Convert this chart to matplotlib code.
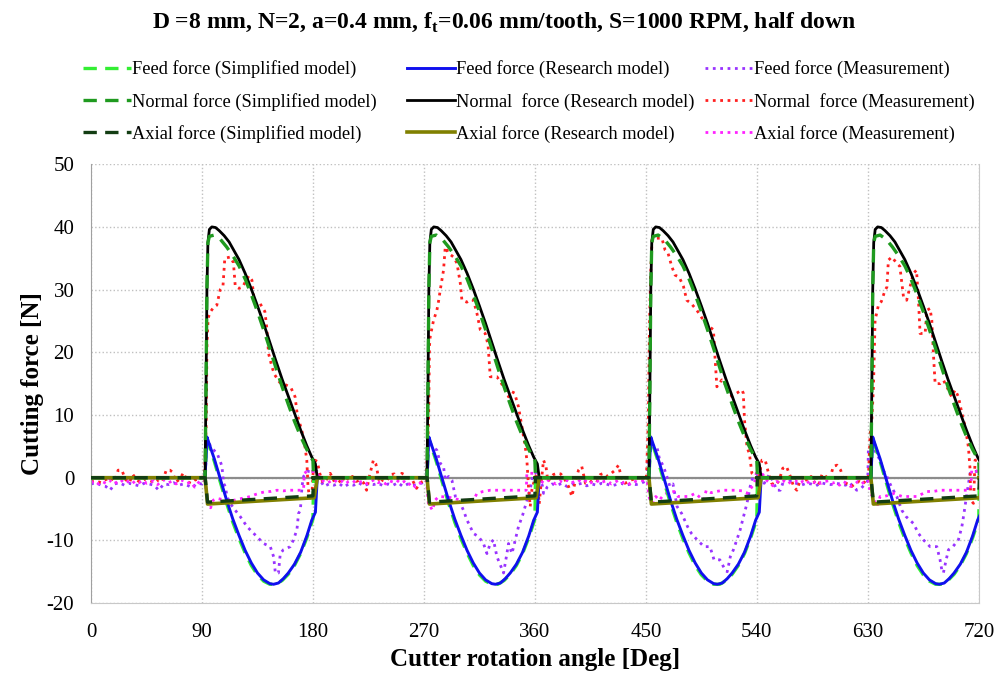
import matplotlib
matplotlib.use("Agg")
import matplotlib.pyplot as plt
import numpy as np

plt.rcParams["font.family"] = ["Liberation Serif", "DejaVu Serif"]
plt.rcParams["mathtext.fontset"] = "custom"
plt.rcParams["mathtext.rm"] = "Liberation Serif"
plt.rcParams["mathtext.bf"] = "Liberation Serif:bold"
plt.rcParams["axes.unicode_minus"] = False

# ---- model curves: one tooth pass (angle inside a 180 deg period) ----
tooth_starts = [0, 180, 360, 540]

normal_res_ang = [0, 92.5, 93.3, 94.0, 94.8, 96.0, 98, 101, 104, 108, 112, 116, 120, 125, 130,
                  135, 140, 145, 150, 155, 160, 165, 170, 175, 179, 182, 183.5, 180]
normal_res_val = [0, 0, 15, 30, 37.5, 39.6, 40, 39.9, 39.4, 38.6, 37.6, 36.2, 34.8, 32.6, 30.1,
                  27.4, 24.6, 21.6, 18.6, 15.7, 13.0, 10.3, 7.6, 5.1, 3.3, 2.2, 0, 0]

normal_sim_ang = [0, 92.5, 93.3, 94.0, 94.8, 96, 100, 105, 110, 115, 120, 125, 130, 135, 140, 145,
                  150, 155, 160, 165, 170, 175, 180, 180.5, 180]
normal_sim_val = [0, 0, 15, 30, 37.5, 38.5, 38.7, 38.0, 36.8, 35.4, 33.8, 31.7, 29.2, 26.5, 23.6, 20.6,
                  17.5, 14.5, 11.7, 9.0, 6.6, 4.5, 2.7, 0, 0]

feed_res_ang = [0, 92.5, 94, 96, 100, 105, 110, 115, 120, 125, 130, 135, 140, 145, 148, 152,
                156, 160, 165, 170, 175, 179, 182, 183.5, 180]
feed_res_val = [0, 0, 6.5, 5.3, 3.0, -0.3, -3.6, -6.6, -9.2, -11.6, -13.6, -15.2, -16.3, -16.9, -17.0, -16.8,
                -16.1, -15.2, -13.8, -11.9, -9.3, -6.8, -5.5, 0, 0]

feed_sim_ang = [0, 92.5, 94, 96, 100, 105, 110, 115, 120, 125, 130, 135, 140, 145, 150, 155,
                160, 165, 170, 175, 180, 180.5, 180]
feed_sim_val = [0, 0, 6.2, 5.0, 2.6, -0.8, -4.1, -7.1, -9.7, -12.0, -14.0, -15.5, -16.5, -17.0, -17.0, -16.4,
                -15.4, -14.0, -12.1, -9.6, -6.6, 0, 0]

axial_res_ang = [0, 92.5, 94.5, 181, 183.5, 180]
axial_res_val = [0, 0, -4.2, -3.2, 0, 0]

axial_sim_ang = [0, 92.6, 94.5, 180, 180.5, 180]
axial_sim_val = [0, 0, -3.9, -2.9, 0, 0]

# ---- measurements (whole 0..720 deg) ----
normal_meas_ang = [0, 4, 8, 12, 16, 19, 22, 25, 28, 31, 34, 37, 40, 44, 48, 52, 55, 58, 61, 64, 66, 69, 72,
                   75, 78, 81, 84, 87, 90, 92,
                   93.5, 94, 95, 97, 99.5, 102, 104.8, 107, 108.5, 113, 115.5, 117, 120, 123, 125, 128,
                   130.5, 132.5, 137, 141, 142.5, 144, 147, 149, 153, 158, 162, 165.5, 167, 168.5, 171,
                   173.5, 175, 176, 177, 179, 180, 181.5, 183.5, 185.5,
                   188, 191, 194, 197, 200, 203, 206, 209, 212, 215, 218, 221, 223.5, 226, 229, 231, 234,
                   237, 240, 243, 246, 249, 252, 255, 258, 261, 264, 267, 270, 272,
                   273.8, 274.5, 275.1, 277.8, 280.5, 282, 283.2, 285.9, 287.3, 290, 294, 296.8, 299.5,
                   300.8, 304.8, 308, 310.2, 313, 315.7, 319.7, 322, 323.8, 329.2, 334.6, 338.6, 341.4,
                   343.5, 346.7, 349.5, 352.2, 353.5, 354.8, 356.2, 357.5, 358.9, 361.6, 363.5, 365, 367,
                   369, 370.5,
                   375, 378, 381, 384, 387.3, 390, 392.5, 395.4, 398, 401, 404, 407, 410, 413, 416, 419,
                   422, 425, 427.8, 430, 433, 436, 439, 442, 445, 448, 450.5,
                   452, 453, 454, 455, 458, 463, 465.6, 468, 471, 473.7, 477, 480.5, 483.2, 486.7, 491.4,
                   496.7, 502.1, 504.8, 506.2, 507.6, 511.6, 515.7, 518.4, 523.8, 527.9, 529, 530, 532,
                   534, 536, 538.7, 541.4, 544.1, 546.8, 549.5, 552,
                   555, 558, 561, 564, 567, 570, 572.5, 575, 578, 581, 584, 587, 590, 593, 596, 599, 602,
                   605, 608, 611, 614, 617, 620, 623, 626, 629, 630.5,
                   631.9, 633, 634.6, 635.9, 638.6, 641, 644, 645.5, 646.7, 649.5, 653.5, 656, 658.9,
                   661.5, 664.3, 667, 669.5, 671.1, 672.4, 676.5, 677.9, 680.5, 681.9, 683.2, 684.6,
                   688.6, 691.5, 694.1, 698, 700.8, 703.5, 706.3, 709, 711.6, 713, 713.5, 715.7, 717, 720]
normal_meas_val = [-0.6, -0.5, -0.8, -0.3, 0, -0.6, 1.2, 1.2, -0.3, -0.8, 0.5, -0.4, -0.7, -0.2, -0.5, -0.8,
                   -0.3, -0.6, 1.2, 1.2, 0.9, -0.7, -0.2, 0.8, -0.6, -0.9, -0.4, -0.2, 0, 0.5,
                   9, 21, 25.5, 26.5, 27.2, 27.5, 30, 30.5, 35, 35.2, 34.3, 30.5, 30.2, 30.4, 31.2, 32.2,
                   31.5, 28, 27.8, 26.5, 24, 19.8, 17.5, 16.4, 15.2, 14.8, 14.4, 12.9, 10.5, 9.2, 7.5,
                   5, 2.8, -1.5, -2.8, -3.6, 0.5, 2.8, 2.6, 0.7,
                   -0.8, -0.3, 0.7, -0.5, -0.2, -0.9, 0.3, -0.4, 0.2, -0.6, -0.4, -0.8, -2, 0.4, 2.8, 2.2,
                   -0.8, -0.3, -0.5, 0.5, 0.6, -0.2, 0.7, 0.4, -0.2, -0.5, -1.7, -0.8, -0.5, 0.3,
                   9.2, 21, 22.5, 25.1, 26.7, 28.3, 29.9, 33.1, 36.8, 35.8, 35.2, 34.2, 31,
                   28.3, 28, 28.4, 28.3, 26.2, 23.6, 23, 21.2, 16.1, 16.1, 14.5, 12.9, 13.7,
                   13.5, 11.3, 8.1, 4.9, 2.8, -1.4, -4.6, -2, -0.9, 0.8, -4.2, -1, 2.8,
                   1.8, -0.6,
                   0.5, 0.7, 0.6, -0.2, -1.4, -3, -0.8, 1.2, 1.8, -0.9, -0.9, -0.3, -0.5, 0.5, 0.7, 0.2,
                   0.7, 1.2, 2, 0.1, -0.9, -0.6, -0.3, -0.2, 0, 0.1, 0.2,
                   9.2, 25, 33, 37.9, 38.2, 38.2, 36.3, 35.8, 33.7, 32.3, 32, 30.5, 28.3, 27.8, 26.7,
                   25.1, 24, 23.6, 18.8, 14.5, 15.6, 14.5, 12.9, 13.5, 14, 13.5, 9.2, 4.9,
                   3.8, 0.7, 0.2, -0.4, 2.8, 2.8, 0.7, -0.9,
                   -1.2, -0.5, 1.5, 1.8, 0.3, -1.5, -2, -0.5, 0.3, -0.6, 0.2, -0.8, -1.2, 0.6, 0.2, -0.4, 1.8,
                   2, 1.2, -0.8, -1, -1.4, -0.9, -0.6, -1, -0.3, 0,
                   7.1, 8, 14.5, 25.1, 27.5, 28.1, 29.9, 30.4, 34.7, 35.2, 34.2, 33.7, 28.9,
                   28.3, 30.5, 32.6, 33.1, 28.3, 23, 23, 26.7, 27, 25.1, 19.8, 15,
                   15, 15.5, 14.5, 12.9, 14, 12.9, 10.3, 8.1, 4.9, 1.2, -3.6, -4.1, 2.8, 2.8]

feed_meas_ang = [0, 4, 8, 12, 15.5, 19, 23, 27, 31, 35, 39, 43, 47, 51, 55, 59, 63, 67, 71, 75, 79, 82, 86,
                 90, 92.5,
                 93.5, 94.6, 97, 99, 102.2, 105, 106.2, 107.5, 108.9, 110.3, 112.9, 117, 121, 126.5, 130,
                 134.6, 140, 145.4, 148.1, 149.5, 152, 153.5, 156, 161.6, 164, 167, 168.3, 169.8, 171.1,
                 172.4, 175.1, 179, 183.3, 184.5, 185.9,
                 189, 193, 197, 201, 205, 209, 213, 217, 221, 225, 229, 233, 237, 241, 245, 249, 253, 257,
                 261, 265, 269, 272,
                 273, 273.8, 276.5, 280.5, 283.2, 285.9, 287.3, 290, 292.7, 295.5, 299.5, 302.1, 304.8,
                 307.5, 310.2, 314.3, 318.3, 321.1, 323.8, 326.4, 329.2, 334.6, 337.3, 338.6, 341.4,
                 344.1, 346.7, 350, 353, 356, 358.5, 361, 363,
                 366, 367, 370, 374, 378, 382, 386, 390, 394, 398, 402, 406, 410, 414, 418, 422, 426, 430,
                 434, 438, 442, 446, 450.5,
                 452, 454.9, 457, 459, 461, 464.3, 467, 469.5, 472, 475.3, 479, 483.8, 487, 491.5, 497.2,
                 502, 505.3, 510, 514.3, 516, 518.5, 521, 523.8, 526.5, 529.2, 532, 534.6, 537, 542.7,
                 546, 550,
                 553, 556.2, 559, 562, 565, 568, 572, 576, 580, 584, 588, 592, 596, 600, 604, 608, 612,
                 615, 618.4, 621, 624, 627, 630,
                 630.5, 634.6, 637, 640, 642.5, 645.4, 649, 653.5, 657.6, 661, 667, 671.1, 675, 680.5,
                 686, 688.6, 690, 691.3, 693, 695.4, 699, 703.5, 706.3, 708, 710.4, 713, 715.5, 718.5, 720]
feed_meas_val = [-1, -0.8, -1.2, -1.4, -2, -1, -0.8, -1.2, -0.9, -1.1, -1.3, -0.9, -1, -1.2, -2, -1, -1.1,
                 -0.8, -1.2, -1, -1.3, -1.6, -0.9, -1, -0.5,
                 4, 6, 5, 4.5, 3.9, 2.5, 1.8, -0.9, -1.4, -3, -4.1, -5.2, -6.2, -7.8, -8.5,
                 -9.4, -10.5, -11, -12.6, -15.2, -15.2, -12.1, -11.5, -11, -10, -8.3, -5.7, -5.2, -1.4,
                 0.2, 1, 1, 1, 0, -0.4,
                 -1.4, -1, -1.2, -0.9, -1.5, -1, -1.2, -0.8, -1.3, -1, -1.1, -0.9, -1.3, -1, -1.2, -0.8,
                 -1.4, -1, -1.2, -1.1, -0.8, -0.5,
                 3, 6, 5, 4.4, 2.3, 1.8, -0.4, 0.2, -0.4, -3, -4.1, -5.2, -6.7,
                 -7.8, -8.9, -9.4, -10.5, -12.1, -10.5, -9.9, -12.6, -15.2, -12.1, -10.5, -12.1,
                 -9.9, -7.8, -6, -4, -2, 0.5, 0.8, -0.5,
                 -1.2, -2.5, -1.5, -1, -1.2, -0.9, -1.4, -1, -1.1, -0.9, -1.3, -1, -1.2, -0.9, -1, -1.3,
                 -1.1, -0.9, -1.2, -1, -1.1, -0.9, -0.5,
                 3, 5.5, 4.9, 4.9, 3, 1.8, 0.2, -1.4, -1, -4.6, -5.7, -7.8, -8.9, -9.9, -11,
                 -11, -13.1, -13.1, -14.7, -15, -12.6, -11.5, -9.9, -8.3, -6.2, -4.1, -1.4, 0.2, 0.7,
                 -0.9, 0.5,
                 -0.5, -2, -2, -0.4, 0.2, -0.8, -0.9, -1.2, -0.9, -1, -1.3, -0.8, -1, -1.1, -0.9, -1, -1.2,
                 -0.8, -1.4, -2, -1.8, -1.2, -0.5,
                 4.9, 4.9, 3.8, 2.8, 1.2, 0.2, -1.4, -3, -5.2, -6.2, -7.3, -8.9, -9.9, -11,
                 -11, -13.1, -14.7, -15.2, -13.6, -11.5, -11, -9.9, -7.8, -5.7, -2.5, 0.7, 1, 1, 1]

axial_meas_ang = [0, 3, 6, 9, 12, 15, 18, 21, 24, 27, 30, 33, 36, 39, 42, 45, 48, 51, 54, 57, 60, 63, 66,
                  69, 72, 75, 78, 81, 84, 87, 90, 92.5,
                  94, 95.4, 97, 99, 102.2, 107, 112, 116, 120, 125, 129.2, 133, 138, 142, 146, 150.8, 156,
                  161, 166, 170, 172.4, 173, 175, 179, 183, 185,
                  188, 191, 194, 197, 200, 203, 206, 209, 212, 215, 218, 221, 224, 227, 230, 233, 236,
                  239, 242, 245, 248, 251, 254, 257, 260, 263, 266, 269, 272,
                  273.8, 275.1, 277, 279, 282, 290, 296, 302, 306, 310.2, 313, 318, 323.8, 330, 336, 342,
                  348, 353, 353.5, 356, 360, 362,
                  365, 368, 371, 374, 377, 380, 383, 386, 389, 392, 395, 398, 401, 404, 407, 410, 413, 416,
                  419, 422, 425, 428, 431, 434, 437, 440, 443, 446, 449, 451,
                  452.5, 453.5, 456, 458, 461, 464, 467, 470, 473, 476, 480, 484, 487, 490, 493, 496.7, 499,
                  503, 507, 512.9, 518, 523, 528, 532, 534, 537, 538.7, 539.5, 542, 545, 547,
                  550, 553, 556, 559, 562, 565, 568, 571, 574, 577, 580, 583, 586, 589, 592, 595, 598, 601,
                  604, 607, 610, 613, 616, 619, 622, 625, 628, 630.5,
                  632, 634, 637.3, 640, 643, 647, 651.4, 655, 658, 662.2, 666, 670, 674, 678, 683, 688.6,
                  694, 700, 705, 711.6, 713.5, 714.3, 717, 720]
axial_meas_val = [-0.8, -0.5, -1, -0.6, -0.9, -0.4, -1, -0.7, -0.3, -0.9, -0.6, -1, -0.5, -0.8, -0.4, -0.9,
                  -0.7, -0.5, -1.1, -0.6, -0.3, -0.8, -0.5, -1, -0.6, -0.4, -0.9, -0.7, -1.5, -0.8, -0.3,
                  -0.5,
                  -3, -4.6, -4.8, -3.6, -3.3, -3.5, -3.8, -3.6, -3.4, -3.2, -3, -2.7, -2.4, -2.2, -2.2, -2,
                  -2.1, -2, -2, -2, -1.8, 0.7, 1, 1, 0.8, 0.2,
                  -0.5, -0.9, -0.6, -0.3, -0.8, -0.5, -1, -0.6, -0.4, -0.9, -0.7, -0.5, -1, -0.6, -0.3, -0.8,
                  -0.6, -1, -0.5, -0.7, -0.4, -0.9, -0.6, -1.2, -0.8, -1.5, -1, -0.6, -0.4,
                  -4.6, -4.6, -5.2, -3.6, -3, -3.1, -3.4, -3.6, -3.6, -3.6, -2.5, -2.2, -2, -2, -2, -2,
                  -2, -2, 0.7, 0.7, 0.7, 0.2,
                  -0.6, -0.9, -0.4, -0.7, -1, -0.5, -0.8, -0.4, -0.9, -0.6, -0.3, -0.8, -0.5, -1, -0.6, -0.4,
                  -0.9, -0.6, -0.5, -1, -0.7, -0.4, -0.8, -0.6, -1, -0.5, -0.7, -0.5, -0.4, -0.5,
                  -3, -3.6, -4.1, -3, -3.6, -2.8, -2.5, -2.3, -2.2, -3, -3, -3, -2.8, -2.5, -3, -3.6, -2,
                  -2.4, -2.2, -2, -2, -2, -2.1, -2.5, -2, -1.2, -0.4, 0.7, 0.7, 0.5, -0.3,
                  -0.7, -1.3, -0.6, -0.9, -0.5, -1, -0.6, -0.4, -0.9, -0.6, -1, -0.5, -0.8, -0.4, -0.9, -0.6,
                  -0.5, -0.9, -0.7, -1.2, -0.6, -0.9, -1.4, -1.1, -0.6, -1, -0.5, -0.4,
                  -2.5, -3, -4.6, -3, -3, -2.8, -2.5, -2.8, -3, -3, -3, -3, -2.6, -2.2, -2.2, -2,
                  -2, -2, -2, -2, -1.5, 1.2, 1.2, 0.9]


def tile(ang, val):
    xs, ys = [], []
    for s in tooth_starts:
        xs.extend([a + s for a in ang[:-1]])
        ys.extend(val[:-1])
    xs.append(720)
    ys.append(val[-1])
    return np.array(xs), np.array(ys)


fig = plt.figure(figsize=(10.08, 6.78), dpi=100)
ax = fig.add_axes([0.0903, 0.1105, 0.8807, 0.6473])

ax.set_xlim(0, 720)
ax.set_ylim(-20, 50)
ax.set_xticks(np.arange(0, 721, 90))
ax.set_yticks(np.arange(-20, 51, 10))
ax.grid(True, color="#c0c0c0", linestyle=":", linewidth=1.0)
ax.set_axisbelow(True)
ax.axhline(0, color="#8c8c8c", linewidth=1.6, zorder=1)

dash = (0, (4, 2.5))
h = []
x, y = tile(feed_sim_ang, feed_sim_val)
h += ax.plot(x, y, color="#33ee33", linestyle=dash, linewidth=2.4,
             label="Feed force (Simplified model)", zorder=3)
x, y = tile(normal_sim_ang, normal_sim_val)
h += ax.plot(x, y, color="#1f9a1f", linestyle=dash, linewidth=2.4,
             label="Normal force (Simplified model)", zorder=5)
x, y = tile(axial_sim_ang, axial_sim_val)
h += ax.plot(x, y, color="#133d13", linestyle=dash, linewidth=2.4,
             label="Axial force (Simplified model)", zorder=5)
x, y = tile(feed_res_ang, feed_res_val)
h += ax.plot(x, y, color="#1010ee", linewidth=2.1, label="Feed force (Research model)", zorder=4)
x, y = tile(normal_res_ang, normal_res_val)
h += ax.plot(x, y, color="black", linewidth=2.0, label="Normal  force (Research model)", zorder=4)
x, y = tile(axial_res_ang, axial_res_val)
h += ax.plot(x, y, color="#808000", linewidth=2.6, label="Axial force (Research model)", zorder=4)
h += ax.plot(feed_meas_ang, feed_meas_val, color="#9933ff", linestyle=":", linewidth=2.0,
             label="Feed force (Measurement)", zorder=2)
h += ax.plot(normal_meas_ang, normal_meas_val, color="#ff2020", linestyle=":", linewidth=2.0,
             label="Normal  force (Measurement)", zorder=2)
h += ax.plot(axial_meas_ang, axial_meas_val, color="#ff22ff", linestyle=":", linewidth=2.0,
             label="Axial force (Measurement)", zorder=2)

for side in ["left", "bottom", "right"]:
    ax.spines[side].set_color("#c8c8c8")
ax.spines["left"].set_color("#a0a0a0")
ax.spines["top"].set_visible(False)
ax.tick_params(length=0, labelsize=15, pad=12)
ax.tick_params(axis="x", pad=14)

ax.set_xlabel("Cutter rotation angle [Deg]", fontsize=18, fontweight="bold", labelpad=5)
ax.set_ylabel("Cutting force [N]", fontsize=18, fontweight="bold", labelpad=2)

fig.suptitle(r"D =8 mm, N=2, a=0.4 mm, f$_\mathbf{t}$=0.06 mm/tooth, S=1000 RPM, half down",
             fontsize=17, fontweight="bold", y=0.985)

# three legend columns placed one by one
col_x = [83, 407, 705]
for i, cx in enumerate(col_x):
    fig.legend(handles=h[3 * i:3 * i + 3], loc="upper left",
               bbox_to_anchor=(cx / 1008, 0.911), frameon=False, borderpad=0, borderaxespad=0,
               fontsize=13.2, handlelength=2.6, handletextpad=0.1, labelspacing=0.78)

fig.savefig("out.png", dpi=100)
